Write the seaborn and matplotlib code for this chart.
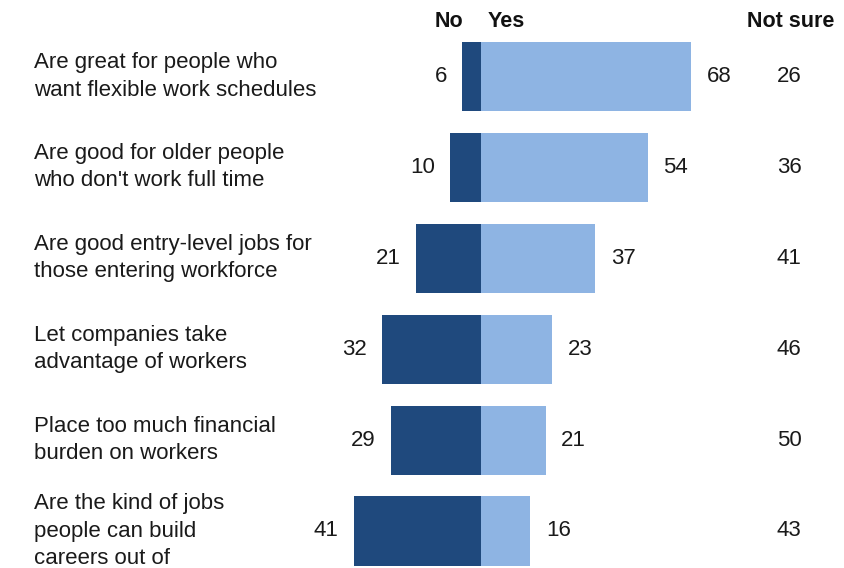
import matplotlib
matplotlib.use("Agg")
import matplotlib.pyplot as plt
import seaborn as sns
import pandas as pd

statements = [
    "Are great for people who\nwant flexible work schedules",
    "Are good for older people\nwho don't work full time",
    "Are good entry-level jobs for\nthose entering workforce",
    "Let companies take\nadvantage of workers",
    "Place too much financial\nburden on workers",
    "Are the kind of jobs\npeople can build\ncareers out of",
]
no_vals = [6, 10, 21, 32, 29, 41]
yes_vals = [68, 54, 37, 23, 21, 16]
not_sure_vals = [26, 36, 41, 46, 50, 43]
headers = ["No", "Yes", "Not sure"]

dark = "#1f497d"
light = "#8eb4e3"

sns.set_theme(style="white")
plt.rcParams["font.family"] = ["Liberation Sans", "DejaVu Sans"]

df = pd.DataFrame({"statement": statements, "no": no_vals, "yes": yes_vals,
                   "not_sure": not_sure_vals})
df["no_neg"] = -df["no"]

fig = plt.figure(figsize=(8.44, 5.68), dpi=100)
ax = fig.add_axes([0, 0, 1, 1])

bar_h = 0.76
sns.barplot(data=df, x="yes", y="statement", orient="h", color=light,
            width=bar_h, saturation=1, linewidth=0, ax=ax)
sns.barplot(data=df, x="no_neg", y="statement", orient="h", color=dark,
            width=bar_h, saturation=1, linewidth=0, ax=ax)

# horizontal scale: 0 sits at x=481px, ~3.09px per point
px_per = 3.09
x0 = 481
ax.set_xlim(-x0 / px_per, (844 - x0) / px_per)
row_px = 90.9
ax.set_ylim(5 + (568 - 531) / row_px, -76.5 / row_px)
ax.axis("off")

fs = 16
nsx = (789 - x0) / px_per
label_x = (34 - x0) / px_per
txt = "#1a1a1a"
for i, row in df.iterrows():
    ax.text(-row["no"] - 5, i, f"{row['no']}", ha="right", va="center",
            fontsize=fs, color=txt)
    ax.text(row["yes"] + 5, i, f"{row['yes']}", ha="left", va="center",
            fontsize=fs, color=txt)
    ax.text(nsx, i, f"{row['not_sure']}", ha="center", va="center",
            fontsize=fs, color=txt)
    ax.text(label_x, i, row["statement"], ha="left", va="center",
            fontsize=fs, color=txt, linespacing=1.38)

hy = -0.6
ax.text(-5.8, hy, headers[0], ha="right", va="center", fontsize=15.5,
        fontweight="bold", color="#111111")
ax.text(2.3, hy, headers[1], ha="left", va="center", fontsize=15.5,
        fontweight="bold", color="#111111")
ax.text(nsx + 0.7, hy, headers[2], ha="center", va="center", fontsize=15.5,
        fontweight="bold", color="#111111")

fig.savefig("out.png", dpi=100, facecolor="white")
